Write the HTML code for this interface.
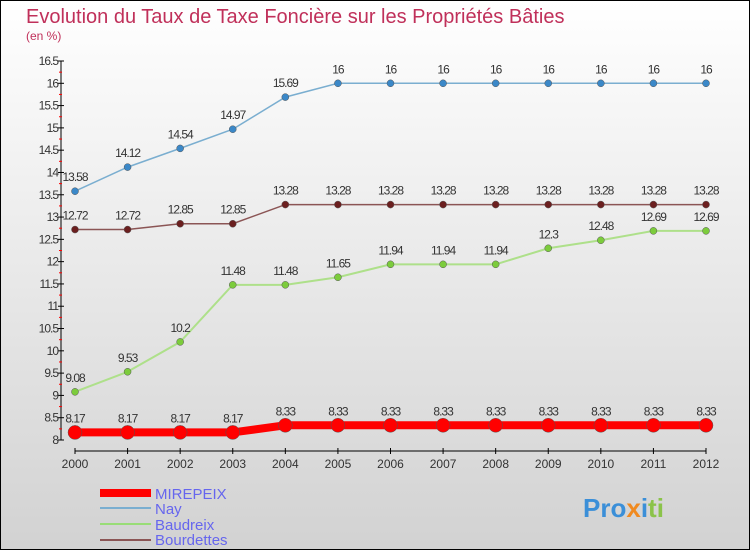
<!DOCTYPE html>
<html><head><meta charset="utf-8"><style>
body{margin:0}
#c{width:748px;height:548px;border:1px solid #000;background:linear-gradient(#fff,#d2d2d2);position:relative;font-family:"Liberation Sans",sans-serif}
</style></head><body>
<div id="c">
<svg width="748" height="548" viewBox="1 1 748 548" id="s">
<text x="26" y="23" font-size="20" fill="#c0305a">Evolution du Taux de Taxe Foncière sur les Propriétés Bâties</text>
<text x="26" y="40" font-size="12" fill="#c0305a">(en %)</text>
<g id="ax"></g><g id="ser"></g>
<g>
<rect x="100" y="489" width="51" height="8" fill="#f00"/>
<line x1="100" y1="508" x2="151" y2="508" stroke="#7aaed0" stroke-width="2"/>
<line x1="100" y1="524" x2="151" y2="524" stroke="#99dd77" stroke-width="2"/>
<line x1="100" y1="540" x2="151" y2="540" stroke="#8b5555" stroke-width="2"/>
<text x="155" y="499" font-size="15" fill="#6666ee">MIREPEIX</text>
<text x="155" y="514" font-size="15" fill="#6666ee">Nay</text>
<text x="155" y="530" font-size="15" fill="#6666ee">Baudreix</text>
<text x="155" y="545" font-size="15" fill="#6666ee">Bourdettes</text>
</g>
<text x="583" y="517" font-size="26" font-weight="bold"><tspan fill="#3b8fd8">Pro</tspan><tspan fill="#f08a20">x</tspan><tspan fill="#3b8fd8">i</tspan><tspan fill="#8bc34a">ti</tspan></text>
</svg></div>
<script>
const years=[2000,2001,2002,2003,2004,2005,2006,2007,2008,2009,2010,2011,2012];
const mirepeix=[8.17,8.17,8.17,8.17,8.33,8.33,8.33,8.33,8.33,8.33,8.33,8.33,8.33];
const nay=[13.58,14.12,14.54,14.97,15.69,16,16,16,16,16,16,16,16];
const baudreix=[9.08,9.53,10.2,11.48,11.48,11.65,11.94,11.94,11.94,12.3,12.48,12.69,12.69];
const bourdettes=[12.72,12.72,12.85,12.85,13.28,13.28,13.28,13.28,13.28,13.28,13.28,13.28,13.28];
const yTicks=[8,8.5,9,9.5,10,10.5,11,11.5,12,12.5,13,13.5,14,14.5,15,15.5,16,16.5];
const X=i=>75+i*(706-75)/12, Y=v=>440-(v-8)*(440-61)/8.5;
const NS="http://www.w3.org/2000/svg";
function mk(p,t,a){const e=document.createElementNS(NS,t);for(const k in a)e.setAttribute(k,a[k]);p.appendChild(e);return e;}
const ax=document.getElementById('ax');
mk(ax,'line',{x1:61,y1:61,x2:61,y2:440,stroke:'#000'});
mk(ax,'line',{x1:75,y1:451,x2:706,y2:451,stroke:'#000'});
yTicks.forEach((v,i)=>{const y=Y(v);
 mk(ax,'line',{x1:58,y1:y,x2:64,y2:y,stroke:'#000'});
 if(i<yTicks.length-1)mk(ax,'line',{x1:59,y1:Y(v+0.25),x2:62,y2:Y(v+0.25),stroke:'#f00'});
 const t=mk(ax,'text',{x:58,y:y+4,'font-size':12,'text-anchor':'end',fill:'#333','letter-spacing':'-1'});t.textContent=v;
 });
years.forEach((yr,i)=>{mk(ax,'line',{x1:X(i),y1:448,x2:X(i),y2:454,stroke:'#000'});
 const t=mk(ax,'text',{x:X(i),y:468,'font-size':12,'text-anchor':'middle',fill:'#333'});t.textContent=yr;
 });
const ser=document.getElementById('ser');
function draw(vals,col,fill,w,r,name){
 const g=mk(ser,'g',{});
 
 mk(g,'polyline',{points:vals.map((v,i)=>X(i)+','+Y(v)).join(' '),fill:'none',stroke:col,'stroke-width':w});
 vals.forEach((v,i)=>{const c=mk(g,'circle',{cx:X(i),cy:Y(v),r:r,fill:fill,stroke:'#555','stroke-width':0.5});
  
  const t=mk(g,'text',{x:X(i),y:Y(v)-10,'font-size':12,'text-anchor':'middle',fill:'#333','letter-spacing':'-1'});t.textContent=v;});
}
draw(nay,'#7aaed0','#3b88c8',1.5,3.5,'nay');
draw(bourdettes,'#8b5555','#6b1f1f',1.5,3.5,'bourdettes');
draw(baudreix,'#aee08a','#7ccc3c',2,3.5,'baudreix');
draw(mirepeix,'#f00','#f00',8,7,'mirepeix');
</script></body></html>
